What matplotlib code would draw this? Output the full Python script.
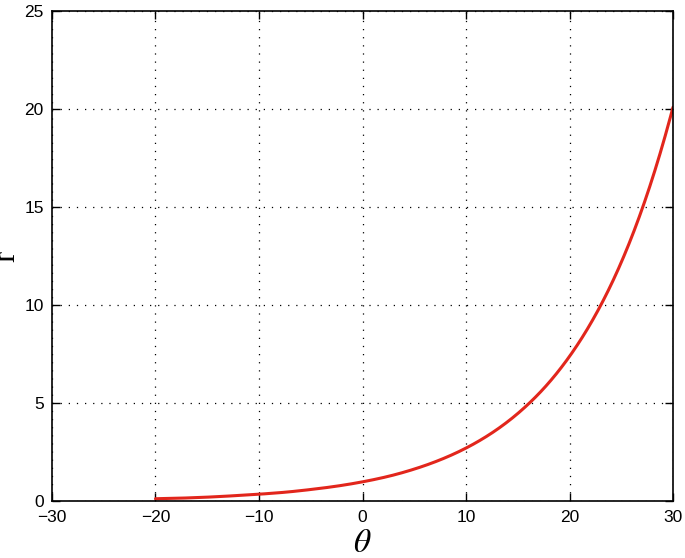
import matplotlib
matplotlib.use('Agg')
import matplotlib.pyplot as plt
import numpy as np

# values
theta = [-20, -17.5, -15, -12.5, -10, -7.5, -5, -2.5, 0, 2.5, 5, 7.5,
         10, 12.5, 15, 17.5, 20, 22.5, 25, 27.5, 30]
r = [0.14, 0.17, 0.22, 0.29, 0.37, 0.47, 0.61, 0.78, 1.0, 1.28, 1.65, 2.12,
     2.72, 3.49, 4.48, 5.75, 7.39, 9.49, 12.18, 15.64, 20.08]
xticks = [-30, -20, -10, 0, 10, 20, 30]
yticks = [0, 5, 10, 15, 20, 25]

plt.rcParams['font.family'] = ['Liberation Sans', 'DejaVu Sans']
plt.rcParams['mathtext.fontset'] = 'stix'

fig = plt.figure(figsize=(6.85, 5.58), dpi=100)
ax = fig.add_axes([0.0759, 0.1013, 0.9066, 0.8797])

# smooth the read points in log space so the curve is not a polyline
th_fine = np.linspace(theta[0], theta[-1], 400)
r_fine = np.exp(np.interp(th_fine, theta, np.log(r)))
ax.plot(th_fine, r_fine, color='#e2261c', lw=2.2, solid_capstyle='round')

ax.set_xlim(-30, 30)
ax.set_ylim(0, 25)
ax.set_xticks(xticks)
ax.set_yticks(yticks)
ax.set_xticklabels(['\u221230', '\u221220', '\u221210', '0', '10', '20', '30'])
ax.tick_params(direction='in', length=6, width=1, labelsize=12.5, pad=6,
               top=True, right=True)
ax.grid(True, color='black', linestyle=(0, (1, 5.5)), linewidth=0.9)
for s in ax.spines.values():
    s.set_linewidth(1.2)

ax.set_xlabel(r'$\theta$', fontsize=24, labelpad=2)
ax.set_ylabel('r', fontsize=24, labelpad=2, family='Liberation Serif')

fig.savefig('out.png', dpi=100)
